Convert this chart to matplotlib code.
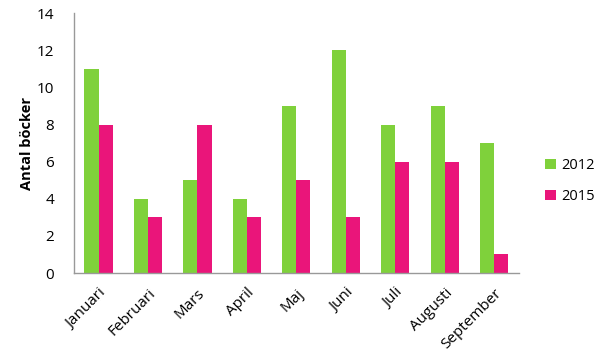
import numpy as np
import matplotlib
matplotlib.use("Agg")
import matplotlib.pyplot as plt

months = ["Januari", "Februari", "Mars", "April", "Maj", "Juni", "Juli", "Augusti", "September"]
books_2012 = [11, 4, 5, 4, 9, 12, 8, 9, 7]
books_2015 = [8, 3, 8, 3, 5, 3, 6, 6, 1]

plt.rcParams['font.family'] = ['Open Sans', 'DejaVu Sans']

fig = plt.figure(figsize=(6, 3.56), dpi=100)
ax = fig.add_axes([0.123, 0.233, 0.742, 0.73])

x = np.arange(len(months))
w = 0.285
ax.bar(x - w / 2, books_2012, w, color='#7FD13B', label='2012')
ax.bar(x + w / 2, books_2015, w, color='#EA157A', label='2015')

ax.set_xlim(-0.5, len(months) - 0.5)
ax.set_ylim(0, 14)
ax.set_yticks(range(0, 15, 2))
ax.set_xticks(x)
ax.set_xticklabels(months, rotation=45, ha='right', rotation_mode='anchor', fontsize=11)
ax.tick_params(axis='both', length=0, labelsize=11)
ax.tick_params(axis='x', pad=9)
ax.tick_params(axis='y', pad=14)

for s in ['top', 'right']:
    ax.spines[s].set_visible(False)
for s in ['left', 'bottom']:
    ax.spines[s].set_color('#999999')
    ax.spines[s].set_linewidth(1)

ax.set_ylabel('Antal böcker', fontsize=10.5, fontweight='bold', labelpad=2)

ax.legend(loc='center left', bbox_to_anchor=(1.03, 0.355), frameon=False,
          fontsize=10.5, handlelength=0.7, handleheight=0.7, labelspacing=1.1,
          handletextpad=0.4)

fig.savefig('out.png', dpi=100)
